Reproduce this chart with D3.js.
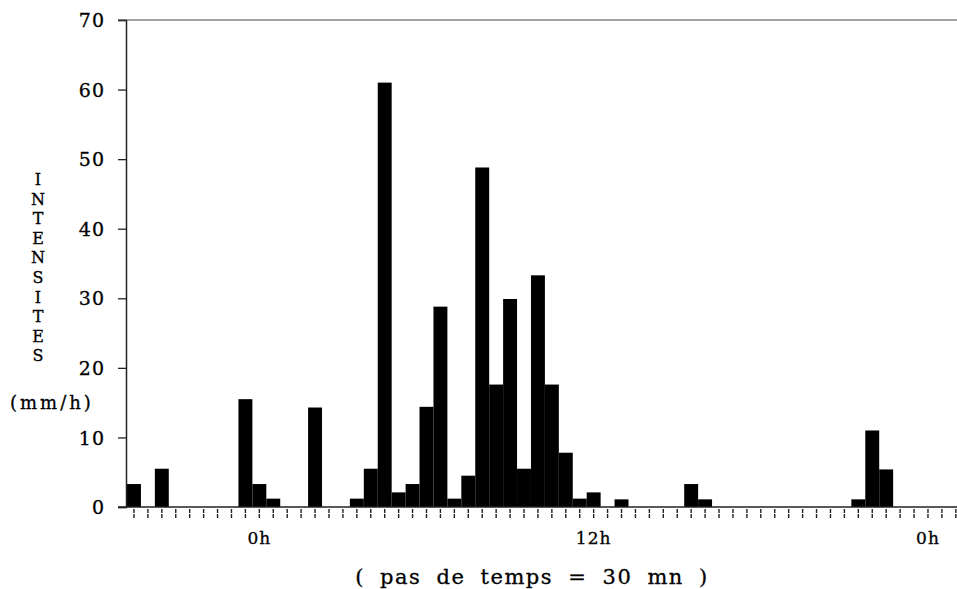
<!DOCTYPE html>
<html><head><meta charset="utf-8">
<script src="https://cdn.jsdelivr.net/npm/d3@7/dist/d3.min.js"></script>
<style>body{margin:0;background:#fff}svg{display:block}</style>
</head><body>
<svg id="c" width="957" height="589"></svg>
<script>
// 30-minute steps (slot index) and rain intensity (mm/h)
const slots = d3.range(60);
const intensities = [3.3,0,5.5,0,0,0,0,0,15.5,3.3,1.2,0,0,14.3,0,0,1.2,5.5,61,2.1,
  3.3,14.4,28.8,1.2,4.5,48.8,17.6,29.9,5.5,33.3,17.6,7.8,1.2,2.1,0,1.1,0,0,0,0,
  3.3,1.1,0,0,0,0,0,0,0,0,0,0,1.1,11.0,5.4,0,0,0,0,0];
const yTicks = [0,10,20,30,40,50,60,70];
const hourLabels = [{slot:9,label:"0h"},{slot:33,label:"12h"},{slot:57,label:"0h"}];
const yTitle = "INTENSITES";
const yUnit = "(mm/h)";
const xTitle = "( pas de temps = 30 mn )";

const svg = d3.select("#c");
const font = "'DejaVu Serif', 'Liberation Serif', serif";
const x = d3.scaleBand().domain(slots).range([127, 127 + 60*13.93]).padding(0);
const y = d3.scaleLinear().domain([0,70]).range([507,20]);

// bars
svg.append("g").selectAll("rect").data(slots).join("rect")
  .attr("x", d => x(d)).attr("width", x.bandwidth())
  .attr("y", d => y(intensities[d])).attr("height", d => y(0) - y(intensities[d]))
  .attr("fill", "#000");

// y axis
const yAxis = d3.axisLeft(y).tickValues(yTicks).tickSize(8).tickPadding(13);
const gy = svg.append("g").attr("transform","translate(126,0)").call(yAxis);
gy.select(".domain").attr("stroke","#222").attr("stroke-width",1.5);
gy.selectAll(".tick line").attr("stroke","#222").attr("stroke-width",1.3);
gy.selectAll(".tick text").attr("font-family",font).attr("font-size",19).attr("fill","#000")
  .attr("letter-spacing",1).attr("stroke","#000").attr("stroke-width",0.3).attr("dy","0.35em");

// top line
svg.append("line").attr("x1",118).attr("x2",957).attr("y1",20).attr("y2",20).attr("stroke","#444").attr("stroke-width",1.2);
// baseline
svg.append("line").attr("x1",118).attr("x2",957).attr("y1",y(0)).attr("y2",y(0)).attr("stroke","#222").attr("stroke-width",1.5);

// x ticks
const xAxis = d3.axisBottom(x).tickValues(slots).tickSize(10).tickFormat(d => {
  const h = hourLabels.find(e => e.slot === d); return h ? h.label : "";
}).tickPadding(13);
const gx = svg.append("g").attr("transform",`translate(0,${y(0)+2})`).call(xAxis);
gx.select(".domain").remove();
gx.selectAll(".tick line").attr("stroke","#222").attr("stroke-width",1.4).attr("stroke-dasharray","4,1");
gx.selectAll(".tick text").attr("font-family",font).attr("font-size",17).attr("fill","#000")
  .attr("letter-spacing",1).attr("stroke","#000").attr("stroke-width",0.3);

// y title stacked letters
svg.append("g").selectAll("text").data(yTitle.split("")).join("text")
  .attr("x",38).attr("y",(d,i)=>185 + i*19.6).attr("text-anchor","middle")
  .attr("font-family",font).attr("font-size",16).attr("stroke","#000").attr("stroke-width",0.3).text(d=>d);
svg.append("text").attr("x",10).attr("y",409)
  .attr("font-family",font).attr("font-size",18).attr("letter-spacing",3)
  .attr("stroke","#000").attr("stroke-width",0.3).text(yUnit);

// x title
svg.append("text").attr("x",532).attr("y",584).attr("text-anchor","middle")
  .attr("font-family",font).attr("font-size",21).attr("letter-spacing",1.5).attr("word-spacing",7)
  .attr("stroke","#000").attr("stroke-width",0.3).attr("xml:space","preserve").text(xTitle);
</script>
</body></html>
